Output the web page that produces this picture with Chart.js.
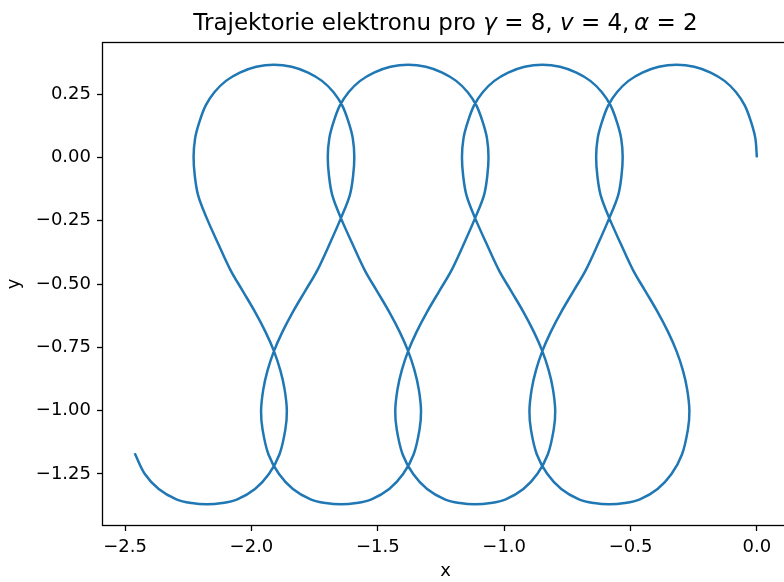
<!DOCTYPE html>
<html lang="cs">
<head>
    <meta charset="UTF-8">
    <title>Trajektorie elektronu</title>
    <script src="https://cdn.jsdelivr.net/npm/chart.js"></script>
    <style>
        html, body { margin: 0; padding: 0; background: #fff; overflow: hidden; }
        #wrap { width: 792px; height: 582px; }
    </style>
</head>
<body>
    <div id="wrap"><canvas id="chart" width="792" height="582"></canvas></div>

    <script>
        // electron path: starts at (0, 0) and winds to the left
        const trajX = [
            // 1st loop
            0.000, -0.006, -0.023, -0.048, -0.083, -0.128, -0.183, -0.248, -0.318, -0.388, -0.453, -0.508, -0.553, -0.588, -0.613, -0.630, -0.636,
            -0.631, -0.618, -0.584, -0.540, -0.490, -0.443, -0.393, -0.351, -0.318, -0.293, -0.276, -0.267,
            -0.273, -0.296, -0.338, -0.393, -0.463, -0.523, -0.584,
            -0.644, -0.704, -0.774, -0.829, -0.871, -0.894, -0.900,
            -0.891, -0.874, -0.849, -0.816, -0.774, -0.724, -0.677, -0.627, -0.584, -0.549, -0.536,
            // 2nd loop
            -0.531, -0.537, -0.554, -0.579, -0.614, -0.659, -0.714, -0.779, -0.849, -0.919, -0.984, -1.039, -1.084, -1.119, -1.144, -1.161, -1.167,
            -1.162, -1.149, -1.115, -1.071, -1.021, -0.974, -0.924, -0.882, -0.849, -0.824, -0.807, -0.798,
            -0.804, -0.827, -0.869, -0.924, -0.994, -1.054, -1.115,
            -1.175, -1.235, -1.305, -1.360, -1.402, -1.425, -1.431,
            -1.422, -1.405, -1.380, -1.347, -1.305, -1.255, -1.208, -1.158, -1.115, -1.080, -1.067,
            // 3rd loop
            -1.062, -1.068, -1.085, -1.110, -1.145, -1.190, -1.245, -1.310, -1.380, -1.450, -1.515, -1.570, -1.615, -1.650, -1.675, -1.692, -1.698,
            -1.693, -1.680, -1.646, -1.602, -1.552, -1.505, -1.455, -1.413, -1.380, -1.355, -1.338, -1.329,
            -1.335, -1.358, -1.400, -1.455, -1.525, -1.585, -1.646,
            -1.706, -1.766, -1.836, -1.891, -1.933, -1.956, -1.962,
            -1.953, -1.936, -1.911, -1.878, -1.836, -1.786, -1.739, -1.689, -1.646, -1.611, -1.598,
            // 4th loop (cut short)
            -1.593, -1.599, -1.616, -1.641, -1.676, -1.721, -1.776, -1.841, -1.911, -1.981, -2.046, -2.101, -2.146, -2.181, -2.206, -2.223, -2.229,
            -2.224, -2.211, -2.177, -2.133, -2.083, -2.036, -1.986, -1.944, -1.911, -1.886, -1.869, -1.860,
            -1.866, -1.889, -1.931, -1.986, -2.056, -2.116, -2.177,
            -2.237, -2.297, -2.367, -2.422, -2.462
        ];
        const trajY = [
            // 1st loop
            0.000, 0.075, 0.140, 0.205, 0.258, 0.302, 0.335, 0.358, 0.366, 0.358, 0.335, 0.302, 0.258, 0.205, 0.140, 0.075, 0.000,
            -0.075, -0.150, -0.240, -0.338, -0.445, -0.525, -0.610, -0.690, -0.765, -0.840, -0.915, -1.000,
            -1.075, -1.172, -1.250, -1.309, -1.350, -1.365, -1.370,
            -1.365, -1.350, -1.309, -1.250, -1.172, -1.075, -1.000,
            -0.915, -0.840, -0.765, -0.690, -0.610, -0.525, -0.445, -0.338, -0.240, -0.150, -0.075,
            // 2nd loop
            0.000, 0.075, 0.140, 0.205, 0.258, 0.302, 0.335, 0.358, 0.366, 0.358, 0.335, 0.302, 0.258, 0.205, 0.140, 0.075, 0.000,
            -0.075, -0.150, -0.240, -0.338, -0.445, -0.525, -0.610, -0.690, -0.765, -0.840, -0.915, -1.000,
            -1.075, -1.172, -1.250, -1.309, -1.350, -1.365, -1.370,
            -1.365, -1.350, -1.309, -1.250, -1.172, -1.075, -1.000,
            -0.915, -0.840, -0.765, -0.690, -0.610, -0.525, -0.445, -0.338, -0.240, -0.150, -0.075,
            // 3rd loop
            0.000, 0.075, 0.140, 0.205, 0.258, 0.302, 0.335, 0.358, 0.366, 0.358, 0.335, 0.302, 0.258, 0.205, 0.140, 0.075, 0.000,
            -0.075, -0.150, -0.240, -0.338, -0.445, -0.525, -0.610, -0.690, -0.765, -0.840, -0.915, -1.000,
            -1.075, -1.172, -1.250, -1.309, -1.350, -1.365, -1.370,
            -1.365, -1.350, -1.309, -1.250, -1.172, -1.075, -1.000,
            -0.915, -0.840, -0.765, -0.690, -0.610, -0.525, -0.445, -0.338, -0.240, -0.150, -0.075,
            // 4th loop (cut short)
            0.000, 0.075, 0.140, 0.205, 0.258, 0.302, 0.335, 0.358, 0.366, 0.358, 0.335, 0.302, 0.258, 0.205, 0.140, 0.075, 0.000,
            -0.075, -0.150, -0.240, -0.338, -0.445, -0.525, -0.610, -0.690, -0.765, -0.840, -0.915, -1.000,
            -1.075, -1.172, -1.250, -1.309, -1.350, -1.365, -1.370,
            -1.365, -1.350, -1.309, -1.250, -1.168
        ];

        const xTicks = [-2.5, -2.0, -1.5, -1.0, -0.5, 0.0];
        const yTicks = [-1.25, -1.0, -0.75, -0.5, -0.25, 0.0, 0.25];
        const xRange = [-2.5875, 0.1232];
        const yRange = [-1.4515, 0.4515];

        // title pieces: [text, italic]
        const titleParts = [
            ['Trajektorie elektronu pro ', false], ['γ', true], [' = 8, ', false],
            ['v', true], [' = 4,\u2009', false], ['α', true], [' = 2', false]
        ];

        const FONT = '"DejaVu Sans", sans-serif';
        const fmt = (v, d) => v.toFixed(d).replace('-', '\u2212');

        // box around the axes + title centred over the axes (like matplotlib)
        const framePlugin = {
            id: 'frame',
            afterDraw(chart) {
                const { ctx, chartArea: a } = chart;
                ctx.save();
                ctx.strokeStyle = '#000';
                ctx.lineWidth = 1.3;
                ctx.strokeRect(a.left - 0.5, a.top - 0.5, a.right - a.left, a.bottom - a.top + 1);

                ctx.fillStyle = '#000';
                ctx.textBaseline = 'alphabetic';
                ctx.textAlign = 'left';
                let total = 0;
                titleParts.forEach(([t, it]) => {
                    ctx.font = (it ? 'italic ' : '') + '23px ' + FONT;
                    total += ctx.measureText(t).width;
                });
                let x = (a.left + a.right) / 2 - total / 2;
                titleParts.forEach(([t, it]) => {
                    ctx.font = (it ? 'italic ' : '') + '23px ' + FONT;
                    ctx.fillText(t, x, 30);
                    x += ctx.measureText(t).width;
                });
                ctx.restore();
            }
        };

        const tickFont = { family: FONT, size: 18 };

        // 'line' type (not scatter) so that the tension smoothing is really applied
        new Chart(document.getElementById('chart'), {
            type: 'line',
            data: {
                datasets: [{
                    data: trajX.map((x, i) => ({ x: x, y: trajY[i] })),
                    pointRadius: 0,
                    borderColor: '#1f77b4',
                    borderWidth: 2.5,
                    tension: 0.35,
                    fill: false
                }]
            },
            options: {
                responsive: false,
                animation: false,
                layout: { padding: { left: 0, right: 4, top: 43, bottom: 0 } },
                plugins: {
                    legend: { display: false },
                    tooltip: { enabled: false }
                },
                scales: {
                    x: {
                        type: 'linear',
                        min: xRange[0],
                        max: xRange[1],
                        afterBuildTicks: s => { s.ticks = xTicks.map(v => ({ value: v })); },
                        afterFit: s => { s.height = 57; },
                        grid: { drawOnChartArea: false, drawTicks: true, tickLength: 6, tickWidth: 1.3, tickColor: '#000' },
                        border: { display: false },
                        ticks: { color: '#000', font: tickFont, padding: 6, maxRotation: 0, autoSkip: false,
                                 callback: v => fmt(v, 1) },
                        title: { display: true, text: 'x', color: '#000', font: tickFont, padding: { top: 0, bottom: 0 } }
                    },
                    y: {
                        type: 'linear',
                        min: yRange[0],
                        max: yRange[1],
                        afterBuildTicks: s => { s.ticks = yTicks.map(v => ({ value: v })); },
                        afterFit: s => { s.width = 103; },
                        grid: { drawOnChartArea: false, drawTicks: true, tickLength: 6, tickWidth: 1.3, tickColor: '#000' },
                        border: { display: false },
                        ticks: { color: '#000', font: tickFont, padding: 6, autoSkip: false,
                                 callback: v => fmt(v, 2) },
                        title: { display: true, text: 'y', color: '#000', font: tickFont, padding: { top: 4, bottom: 0 } }
                    }
                }
            },
            plugins: [framePlugin]
        });
    </script>
</body>
</html>
